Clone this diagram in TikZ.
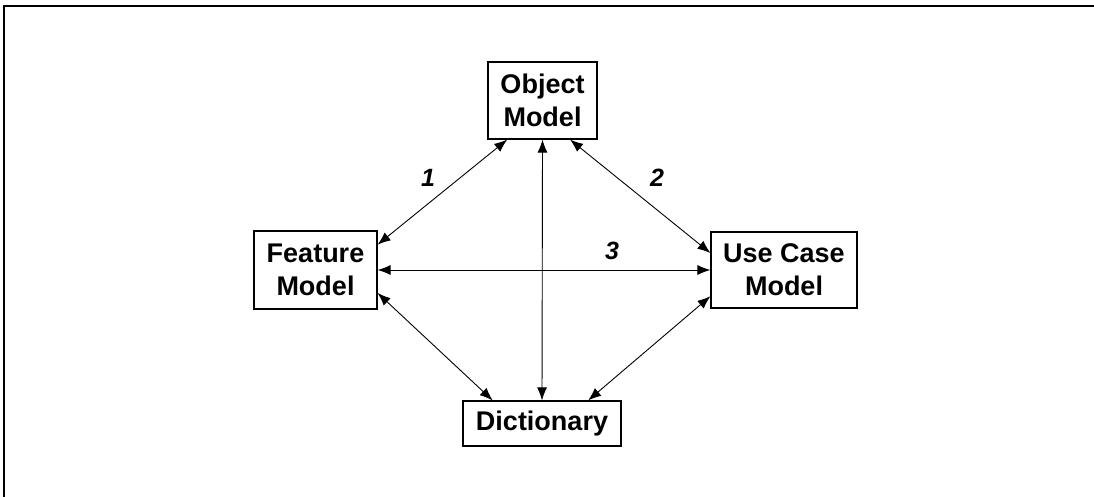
\documentclass[tikz,border=0pt]{standalone}
\usepackage{fontspec}
\setmainfont{Liberation Sans}
\usetikzlibrary{arrows.meta,calc}

\begin{document}
\begin{tikzpicture}[yscale=-1,x=1pt,y=1pt
            ,modelbox/.style={draw=black,fill=white,line width=1.2pt,align=center,inner sep=0pt,font=\fontsize{27}{33}\selectfont\bfseries}
            ,link/.style={draw=black,line width=0.9pt,{Latex[length=13pt,width=10pt]}-{Latex[length=13pt,width=10pt]}}
            ,linklabel/.style={font=\fontsize{25}{28}\selectfont\bfseries\itshape}
        ]
        \useasboundingbox (0,0) rectangle (1094,497);
        \clip (0,0) rectangle (1094,497);
        \draw[line width=2.2pt] (4,6) rectangle (1110,515);
        % models
        \node[modelbox,minimum width=109pt,minimum height=77pt] (object) at (542.5,100.5) {Object\\Model};
        \node[modelbox,minimum width=123pt,minimum height=78pt] (feature) at (315.5,270) {Feature\\Model};
        \node[modelbox,minimum width=146pt,minimum height=76pt] (usecase) at (784,270) {Use Case\\Model};
        \node[modelbox,minimum width=158pt,minimum height=45pt] (dictionary) at (542,423.5) {Dictionary};
        % links between models
        \draw[link] ($(object.south west)!0.18!(object.south east)$) -- ($(feature.north east)!0.18!(feature.south east)$);
        \draw[link] ($(object.south west)!0.75!(object.south east)$) -- ($(usecase.north west)!0.28!(usecase.south west)$);
        \draw[link] (object.south) -- (dictionary.north);
        \draw[link] (feature.east) -- (usecase.west);
        \draw[link] ($(feature.north east)!0.79!(feature.south east)$) -- ($(dictionary.north west)!0.19!(dictionary.north east)$);
        \draw[link] ($(usecase.north west)!0.84!(usecase.south west)$) -- ($(dictionary.north west)!0.79!(dictionary.north east)$);
        % numbers
        \node[linklabel] (one) at (428,178) {1};
        \node[linklabel] (two) at (657,178) {2};
        \node[linklabel] (three) at (612,251) {3};
\end{tikzpicture}
\end{document}
